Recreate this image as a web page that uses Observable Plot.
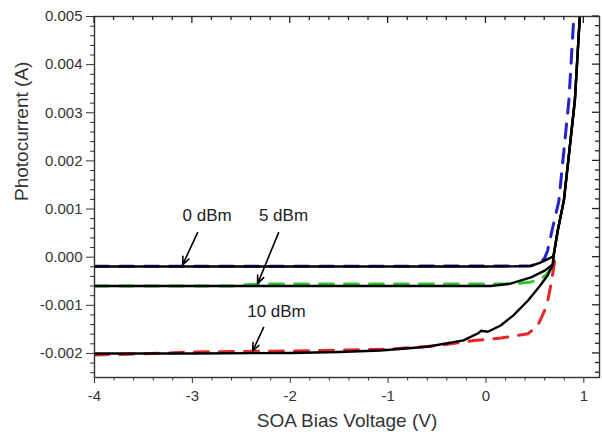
<!DOCTYPE html>
<html><head><meta charset="utf-8">
<script src="https://cdn.jsdelivr.net/npm/d3@7"></script>
<script src="https://cdn.jsdelivr.net/npm/@observablehq/plot@0.6"></script>
<style>body{margin:0;background:#fff} svg{display:block}</style>
</head><body><div id="chart"></div>
<script>
// ---- axis ticks / labels ----
const xTicks = [-4, -3, -2, -1, 0, 1];
const yTicks = [-0.002, -0.001, 0, 0.001, 0.002, 0.003, 0.004, 0.005];
const xTitle = "SOA Bias Voltage (V)";
const yTitle = "Photocurrent (A)";

// ---- 0 dBm ----
const meas0V = [-4, -2, 0, 0.3, 0.46, 0.55, 0.62, 0.69, 0.734, 0.796, 0.852, 0.908, 0.959];
const meas0I = [-0.000195, -0.000195, -0.000195, -0.00019, -0.00018, -0.00012, -0.00005, 0.00002, 0.00056, 0.00118, 0.00221, 0.00325, 0.005];
const sim0V  = [-4, -2, 0, 0.45, 0.55, 0.6, 0.63, 0.68, 0.745, 0.796, 0.847, 0.898];
const sim0I  = [-0.000188, -0.000188, -0.000185, -0.000185, -0.00012, -0.00002, 0.00014, 0.0006, 0.00117, 0.00221, 0.00325, 0.005];

// ---- 5 dBm ----
const meas5V = [-4, -2, 0.05, 0.25, 0.46, 0.6, 0.683, 0.69, 0.734, 0.796, 0.852, 0.908, 0.959];
const meas5I = [-0.0006, -0.0006, -0.0006, -0.00055, -0.00042, -0.00028, -0.00015, 0.00002, 0.00056, 0.00118, 0.00221, 0.00325, 0.005];
const sim5V  = [-4, -2.6, -2.3, 0, 0.2, 0.3, 0.45, 0.55, 0.62, 0.67, 0.69];
const sim5I  = [-0.0006, -0.0006, -0.000555, -0.000555, -0.000555, -0.00055, -0.00052, -0.00047, -0.00036, -0.0002, -0.00012];

// ---- 10 dBm ----
const meas10V = [-4, -3, -2, -1.5, -1.08, -0.6, -0.23, -0.08, -0.05, 0.02, 0.15, 0.28, 0.43, 0.55, 0.63, 0.683, 0.69, 0.734, 0.796, 0.852, 0.908, 0.959];
const meas10I = [-0.002, -0.002, -0.00199, -0.00197, -0.00194, -0.00186, -0.00173, -0.00158, -0.00153, -0.00155, -0.00142, -0.00121, -0.0009, -0.0006, -0.00038, -0.00015, 0.00002, 0.00056, 0.00118, 0.00221, 0.00325, 0.005];
const sim10V  = [-4, -3.5, -3, -2, -1, -0.5, -0.12, 0.15, 0.43, 0.53, 0.6, 0.632, 0.67, 0.71];
const sim10I  = [-0.00203, -0.00201, -0.00197, -0.00195, -0.00191, -0.00184, -0.00173, -0.00168, -0.00159, -0.00142, -0.0011, -0.0009, -0.0005, 0.00003];

// ---- annotations ----
const noteText = ["0 dBm", "5 dBm", "10 dBm"];
const noteX = [-3.1, -2.32, -2.44];
const noteY = [0.00076, 0.00076, -0.00125];
const arrowX1 = [-2.947, -2.119, -2.272];
const arrowY1 = [0.00051, 0.00051, -0.00146];
const arrowX2 = [-3.1, -2.333, -2.384];
const arrowY2 = [-0.00016, -0.00055, -0.00195];

const toRows = (V, I) => V.map((v, i) => ({v, i: I[i]}));
const notes = noteText.map((t, k) => ({t, x: noteX[k], y: noteY[k]}));
const arrows = noteText.map((t, k) => ({x1: arrowX1[k], y1: arrowY1[k], x2: arrowX2[k], y2: arrowY2[k]}));
const xMinor = d3.range(-4, 1.16, 0.2).map(d => +d.toFixed(1)).filter(d => !xTicks.includes(d));
const yMinor = d3.range(-2.4, 5.01, 0.2).map(d => +(d / 1000).toFixed(4)).filter(d => !yTicks.some(t => Math.abs(t - d) < 1e-9));

const W = 602, H = 436, ML = 94, MR = 3, MT = 16, MB = 59;
const xDomain = [-4, 1.16], yDomain = [-0.0025, 0.005];

const dash = {strokeWidth: 3, strokeDasharray: "14,11", curve: "linear"};
const solid = {stroke: "#000", strokeWidth: 2.4, curve: "linear"};
const fmtY = d => d.toFixed(3);
const fmtX = d => String(d);
const blank = () => "";

const chart = Plot.plot({
  width: W, height: H,
  marginLeft: ML, marginRight: MR, marginTop: MT, marginBottom: MB,
  x: {domain: xDomain, axis: null},
  y: {domain: yDomain, axis: null},
  style: {fontFamily: "'Liberation Sans', Arial, sans-serif", fontSize: "15px", color: "#333", background: "#fff"},
  marks: [
    // dashed (simulation) under the solid black curves
    Plot.line(toRows(sim0V, sim0I), {x: "v", y: "i", stroke: "#2323cc", ...dash, clip: true}),
    Plot.line(toRows(sim5V, sim5I), {x: "v", y: "i", stroke: "#2ccc2c", ...dash, clip: true}),
    Plot.line(toRows(sim10V, sim10I), {x: "v", y: "i", stroke: "#e3262a", ...dash, clip: true}),
    Plot.line(toRows(meas0V, meas0I), {x: "v", y: "i", ...solid, clip: true}),
    Plot.line(toRows(meas5V, meas5I), {x: "v", y: "i", ...solid, clip: true}),
    Plot.line(toRows(meas10V, meas10I), {x: "v", y: "i", ...solid, clip: true}),
    // axes
    Plot.frame({stroke: "#333", strokeWidth: 1.4}),
    Plot.axisX(xTicks, {anchor: "bottom", tickSize: 6, tickPadding: 7, tickFormat: fmtX, label: null}),
    Plot.axisX(xMinor, {anchor: "bottom", tickSize: 3.5, tickFormat: blank, label: null}),
    Plot.axisY(yTicks, {anchor: "left", tickSize: 8, tickPadding: 4, tickFormat: fmtY, label: null}),
    Plot.axisY(yMinor, {anchor: "left", tickSize: 4, tickFormat: blank, label: null}),
    // titles
    Plot.text([xTitle], {frameAnchor: "bottom", dy: 49, lineAnchor: "bottom", fontSize: 19, fill: "#333"}),
    Plot.text([yTitle], {frameAnchor: "left", dx: -67, dy: 4, rotate: -90, lineAnchor: "bottom", fontSize: 19, fill: "#333"}),
    // annotations
    Plot.text(notes, {x: "x", y: "y", text: "t", textAnchor: "start", lineAnchor: "bottom", fontSize: 17, fill: "#222"}),
    Plot.arrow(arrows, {x1: "x1", y1: "y1", x2: "x2", y2: "y2", stroke: "#000", strokeWidth: 1.6, headLength: 8, headAngle: 45})
  ]
});

// mirrored inward ticks on the top and right edges, placed with the plot's scales
const sxd = chart.scale("x"), syd = chart.scale("y");
const fx = d3.scaleLinear(sxd && sxd.domain ? sxd.domain : xDomain, sxd && sxd.range ? sxd.range : [ML, W - MR]);
const fy = d3.scaleLinear(syd && syd.domain ? syd.domain : yDomain, syd && syd.range ? syd.range : [H - MB, MT]);
const ns = "http://www.w3.org/2000/svg";
const layer = document.createElementNS(ns, "g");
layer.setAttribute("stroke", "#222");
layer.setAttribute("stroke-width", "1.3");
function addLine(x1, y1, x2, y2) {
  const l = document.createElementNS(ns, "line");
  l.setAttribute("x1", x1); l.setAttribute("y1", y1);
  l.setAttribute("x2", x2); l.setAttribute("y2", y2);
  layer.appendChild(l);
}
const frameTop = MT, frameRight = W - MR;
xTicks.forEach(d => addLine(fx(d), frameTop, fx(d), frameTop + 7));
xMinor.forEach(d => addLine(fx(d), frameTop, fx(d), frameTop + 4));
yTicks.forEach(d => addLine(frameRight, fy(d), frameRight - 7, fy(d)));
yMinor.forEach(d => addLine(frameRight, fy(d), frameRight - 4, fy(d)));
chart.appendChild(layer);
document.getElementById("chart").appendChild(chart);
</script>
</body></html>
